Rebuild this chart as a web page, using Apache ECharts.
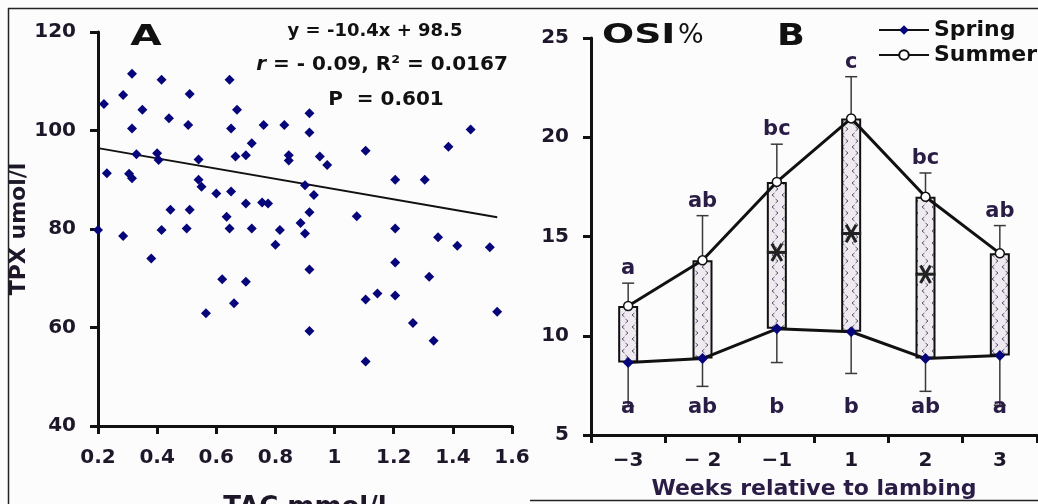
<!DOCTYPE html>
<html>
<head>
<meta charset="utf-8">
<script src="https://cdn.jsdelivr.net/npm/echarts@6/dist/echarts.min.js"></script>
<style>
    html, body { margin: 0; padding: 0; background: #fdfcfd; }
    #chart { width: 1038px; height: 504px; }
</style>
</head>
<body>
<div id="chart"></div>
<script>
// panel A: TAC vs TPX scatter
var tacValues = [0.22, 0.23, 0.20, 0.285, 0.285, 0.315, 0.315, 0.33, 0.305, 0.315,
    0.35, 0.38, 0.40, 0.405, 0.415, 0.415, 0.44, 0.445, 0.50, 0.505,
    0.51, 0.51, 0.54, 0.54, 0.55, 0.565, 0.60, 0.62, 0.635, 0.645,
    0.65, 0.65, 0.645, 0.66, 0.67, 0.665, 0.70, 0.72, 0.70, 0.72,
    0.70, 0.76, 0.755, 0.775, 0.80, 0.815, 0.83, 0.845, 0.845, 0.885,
    0.90, 0.90, 0.915, 0.915, 0.915, 0.915, 0.915, 0.93, 0.95, 0.975,
    1.075, 1.105, 1.105, 1.105, 1.145, 1.205, 1.205, 1.205, 1.205, 1.265,
    1.305, 1.32, 1.335, 1.35, 1.385, 1.415, 1.46, 1.525, 1.55];
var tpxValues = [105.4, 91.3, 79.8, 107.2, 78.6, 111.5, 100.4, 95.2, 91.2, 90.3,
    104.2, 74.0, 95.4, 94.0, 110.3, 79.8, 102.5, 83.9, 80.1, 101.1,
    107.4, 83.9, 94.1, 90.0, 88.6, 62.9, 87.2, 69.8, 82.5, 110.3,
    100.4, 87.6, 80.1, 64.9, 104.2, 94.7, 95.0, 97.4, 85.2, 80.1,
    69.3, 101.1, 85.4, 85.2, 76.8, 79.8, 101.1, 95.0, 93.9, 81.2,
    88.9, 79.1, 103.5, 99.6, 83.4, 71.8, 59.3, 86.9, 94.7, 93.0,
    82.6, 95.9, 65.7, 53.1, 66.9, 90.0, 80.1, 73.2, 66.5, 60.9,
    90.0, 70.3, 57.3, 78.3, 96.7, 76.6, 100.2, 76.3, 63.2];
var fitSlope = -10.4;
var fitIntercept = 98.5;
var fitRange = [0.2, 1.55];

// panel B: OSI% by week
var weekLabels = ['\u22123', '\u2212 2', '\u22121', '1', '2', '3'];
var springMean = [8.65, 8.85, 10.35, 10.2, 8.85, 9.0];
var springLow = [6.45, 7.45, 8.65, 8.1, 7.2, 6.5];
var summerMean = [11.5, 13.8, 17.75, 20.95, 17.0, 14.15];
var summerHigh = [12.65, 16.05, 19.65, 23.05, 18.2, 15.55];
var starLevel = [null, null, 14.2, 15.15, 13.1, null];
var summerLetters = ['a', 'ab', 'bc', 'c', 'bc', 'ab'];
var springLetters = ['a', 'ab', 'b', 'b', 'ab', 'a'];
var springLetterLevel = 6.4;

var fontName = 'DejaVu Sans';
var ink = '#1d1729';
var letterInk = '#2a1d45';
var navy = '#06067a';

var scatterData = tacValues.map(function(x, i) { return [x, tpxValues[i]]; });
var fitData = fitRange.map(function(x) { return [x, fitSlope * x + fitIntercept]; });

function makePattern() {
    var c = document.createElement('canvas');
    c.width = 10;
    c.height = 12;
    var g = c.getContext('2d');
    g.fillStyle = '#eeeaf0';
    g.fillRect(0, 0, 10, 12);
    g.strokeStyle = '#5e5670';
    g.lineWidth = 1;
    g.beginPath();
    g.moveTo(4.5, 1); g.lineTo(2, 3); g.lineTo(4.5, 5);
    g.moveTo(5.5, 7); g.lineTo(8, 9); g.lineTo(5.5, 11);
    g.stroke();
    return c;
}

function errorBarItem(params, api) {
    var x = api.value(0);
    var from = api.coord([x, api.value(1)]);
    var to = api.coord([x, api.value(2)]);
    var style = { stroke: '#3a3a3a', lineWidth: 1.5 };
    return {
        type: 'group',
        children: [
            { type: 'line', shape: { x1: from[0], y1: from[1], x2: to[0], y2: to[1] }, style: style },
            { type: 'line', shape: { x1: to[0] - 6, y1: to[1], x2: to[0] + 6, y2: to[1] }, style: style }
        ]
    };
}

function asteriskItem(params, api) {
    var p = api.coord([api.value(0), api.value(1)]);
    var r = 10;
    var children = [0, 60, 120].map(function(deg) {
        var a = deg * Math.PI / 180;
        var dx = r * Math.cos(a), dy = r * Math.sin(a);
        return { type: 'line', shape: { x1: p[0] - dx, y1: p[1] - dy, x2: p[0] + dx, y2: p[1] + dy },
            style: { stroke: '#222', lineWidth: 3 } };
    });
    return { type: 'group', children: children };
}

function letterItem(letters, valign, dy) {
    return function(params, api) {
        var p = api.coord([api.value(0), api.value(1)]);
        return {
            type: 'text',
            x: p[0],
            y: p[1] + dy,
            style: {
                text: letters[params.dataIndex],
                fill: letterInk,
                font: 'bold 21px "' + fontName + '"',
                align: 'center', verticalAlign: valign,
                textAlign: 'center', textVerticalAlign: valign
            }
        };
    };
}

var axisLine = { show: true, lineStyle: { color: '#111', width: 3 } };
var axisTick = { show: true, length: 8, lineStyle: { color: '#111', width: 3 } };
var tickText = { color: ink, fontFamily: fontName, fontWeight: 'bold', fontSize: 20 };
var nameText = { color: ink, fontFamily: fontName, fontWeight: 'bold' };

function textEl(x, y, text, font, extra) {
    var el = {
        type: 'text', x: x, y: y,
        style: {
            text: text, fill: '#111',
            stroke: 'none', lineWidth: 0,
            font: font,
            align: 'center', verticalAlign: 'middle',
            textAlign: 'center', textVerticalAlign: 'middle'
        }
    };
    if (extra) {
        for (var k in extra) { el[k] = extra[k]; }
    }
    return el;
}

function boldFont(size) {
    return 'bold ' + size + 'px "' + fontName + '"';
}

var border = { stroke: '#222', lineWidth: 1.5 };

var option = {
    backgroundColor: '#fdfcfd',
    animation: false,
    textStyle: { fontFamily: fontName },
    grid: [
        { left: 98, top: 32, right: 526, bottom: 78, outerBoundsMode: 'none', containLabel: false },
        { left: 591, top: 38, right: 1, bottom: 69, outerBoundsMode: 'none', containLabel: false }
    ],
    xAxis: [{
        gridIndex: 0, type: 'value', min: 0.2, max: 1.6, interval: 0.2,
        name: 'TAC mmol/l', nameLocation: 'middle', nameGap: 69,
        nameTextStyle: Object.assign({ fontSize: 26 }, nameText),
        axisLine: axisLine, axisTick: axisTick, splitLine: { show: false },
        axisLabel: Object.assign({ margin: 22, formatter: function(v) { return String(Math.round(v * 10) / 10); } }, tickText)
    }, {
        gridIndex: 1, type: 'category', data: weekLabels, boundaryGap: true,
        name: 'Weeks relative to lambing', nameLocation: 'middle', nameGap: 43,
        nameTextStyle: Object.assign({ fontSize: 22 }, nameText, { color: letterInk }),
        axisLine: axisLine, axisTick: axisTick, splitLine: { show: false },
        axisLabel: Object.assign({ margin: 16 }, tickText)
    }],
    yAxis: [{
        gridIndex: 0, type: 'value', min: 40, max: 120, interval: 20,
        name: 'TPX umol/l', nameLocation: 'middle', nameGap: 56,
        nameTextStyle: Object.assign({ fontSize: 22 }, nameText),
        axisLine: axisLine, axisTick: axisTick, splitLine: { show: false },
        axisLabel: Object.assign({ margin: 22 }, tickText)
    }, {
        gridIndex: 1, type: 'value', min: 5, max: 25, interval: 5,
        axisLine: axisLine, axisTick: axisTick, splitLine: { show: false },
        axisLabel: Object.assign({ margin: 22 }, tickText)
    }],
    legend: {
        data: ['Spring', 'Summer'],
        orient: 'vertical',
        left: 873, top: 14,
        itemWidth: 50, itemHeight: 12, itemGap: 3,
        selectedMode: false,
        textStyle: { fontFamily: fontName, fontWeight: 'bold', fontSize: 22, color: '#111' }
    },
    graphic: [
        { type: 'line', shape: { x1: 8, y1: 8.5, x2: 1038, y2: 8.5 }, style: border },
        { type: 'line', shape: { x1: 8.5, y1: 8, x2: 8.5, y2: 504 }, style: border },
        { type: 'line', shape: { x1: 530, y1: 500.5, x2: 1038, y2: 500.5 }, style: border },
        textEl(146, 38, 'A', boldFont(28), { scaleX: 1.45 }),
        textEl(375, 31, 'y = -10.4x + 98.5', boldFont(18)),
        textEl(382, 65, '{it|r} = - 0.09, R\u00b2 = 0.0167', boldFont(20)),
        textEl(386, 100, 'P  = 0.601', boldFont(20)),
        textEl(791, 37, 'B', boldFont(31), { scaleX: 1.18 }),
        textEl(602, 36, 'OSI', boldFont(27), { scaleX: 1.4 }),
        textEl(678, 36, '%', '27px "' + fontName + '"')
    ],
    series: [{
        type: 'scatter', xAxisIndex: 0, yAxisIndex: 0,
        symbol: 'diamond', symbolSize: 10,
        itemStyle: { color: navy, opacity: 1 },
        data: scatterData, z: 4
    }, {
        type: 'line', xAxisIndex: 0, yAxisIndex: 0,
        symbol: 'none', lineStyle: { color: '#111', width: 2 },
        data: fitData, z: 3
    }, {
        type: 'bar', xAxisIndex: 1, yAxisIndex: 1, stack: 'osi',
        barWidth: 20, silent: true,
        itemStyle: { color: 'transparent' },
        data: springMean, z: 1
    }, {
        type: 'bar', xAxisIndex: 1, yAxisIndex: 1, stack: 'osi',
        barWidth: 20,
        itemStyle: { color: { image: makePattern(), repeat: 'repeat' }, borderColor: '#111', borderWidth: 2 },
        data: summerMean.map(function(v, i) { return +(v - springMean[i]).toFixed(2); }), z: 1
    }, {
        type: 'custom', xAxisIndex: 1, yAxisIndex: 1,
        renderItem: errorBarItem, z: 3,
        data: springMean.map(function(v, i) { return [i, v, springLow[i]]; })
    }, {
        type: 'custom', xAxisIndex: 1, yAxisIndex: 1,
        renderItem: errorBarItem, z: 3,
        data: summerMean.map(function(v, i) { return [i, v, summerHigh[i]]; })
    }, {
        type: 'custom', xAxisIndex: 1, yAxisIndex: 1,
        renderItem: asteriskItem, z: 3,
        data: starLevel.map(function(v, i) { return [i, v]; }).filter(function(d) { return d[1] !== null; })
    }, {
        type: 'custom', xAxisIndex: 1, yAxisIndex: 1,
        renderItem: letterItem(summerLetters, 'bottom', -4), z: 3,
        data: summerHigh.map(function(v, i) { return [i, v]; })
    }, {
        type: 'custom', xAxisIndex: 1, yAxisIndex: 1,
        renderItem: letterItem(springLetters, 'middle', 0), z: 3,
        data: springLetters.map(function(s, i) { return [i, springLetterLevel]; })
    }, {
        name: 'Spring', type: 'line', xAxisIndex: 1, yAxisIndex: 1,
        symbol: 'diamond', symbolSize: 11,
        lineStyle: { color: '#111', width: 3 },
        itemStyle: { color: navy },
        data: springMean, z: 5
    }, {
        name: 'Summer', type: 'line', xAxisIndex: 1, yAxisIndex: 1,
        symbol: 'circle', symbolSize: 9,
        lineStyle: { color: '#111', width: 3 },
        itemStyle: { color: '#fff', borderColor: '#111', borderWidth: 1.5 },
        data: summerMean, z: 5
    }]
};

// italic r in the correlation line
option.graphic[5].style.rich = {
    it: { fontStyle: 'italic', fontWeight: 'bold', fontSize: 20, fontFamily: fontName, fill: '#111' }
};
// OSI and % are left-aligned from their anchor
option.graphic[8].style.align = option.graphic[8].style.textAlign = 'left';
option.graphic[9].style.align = option.graphic[9].style.textAlign = 'left';

var myChart = echarts.init(document.getElementById('chart'));
myChart.setOption(option);
</script>
</body>
</html>
